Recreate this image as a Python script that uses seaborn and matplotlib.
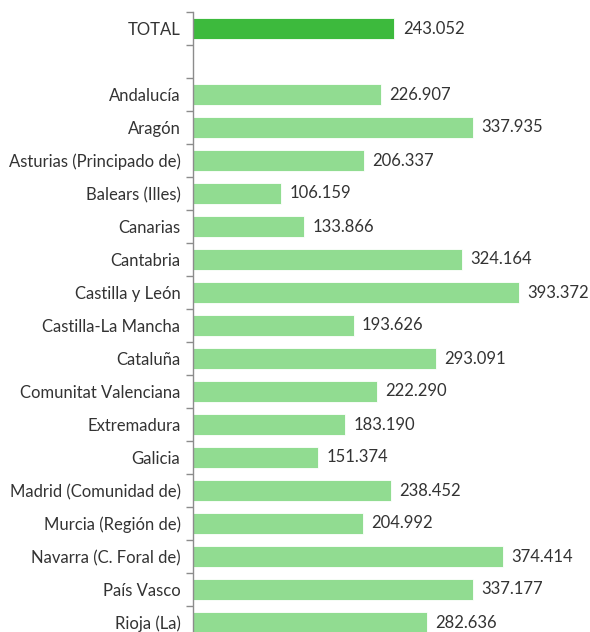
import matplotlib
matplotlib.use('Agg')
import pandas as pd
import seaborn as sns
import matplotlib.pyplot as plt
from matplotlib.ticker import FixedLocator

# data
regiones = ['Andalucía', 'Aragón', 'Asturias (Principado de)', 'Balears (Illes)',
            'Canarias', 'Cantabria', 'Castilla y León', 'Castilla-La Mancha',
            'Cataluña', 'Comunitat Valenciana', 'Extremadura', 'Galicia',
            'Madrid (Comunidad de)', 'Murcia (Región de)', 'Navarra (C. Foral de)',
            'País Vasco', 'Rioja (La)']
valores = [226907, 337935, 206337, 106159, 133866, 324164, 393372, 193626,
           293091, 222290, 183190, 151374, 238452, 204992, 374414, 337177, 282636]
total_label = 'TOTAL'
total_valor = 243052

color_total = '#3dba3d'
color_region = '#91dc91'
text_color = '#333333'

df = pd.DataFrame({
    'region': [total_label] + regiones,
    'valor': [total_valor] + valores,
    'grupo': ['total'] + ['region'] * len(regiones),
})
orden = [total_label, ' '] + regiones

sns.set_style('white')
plt.rcParams['font.family'] = ['Lato', 'DejaVu Sans']

fig = plt.figure(figsize=(5.9, 6.32), dpi=100)
ax = fig.add_axes([193 / 590, -7 / 632, 397 / 590, 627 / 632])

sns.barplot(data=df, y='region', x='valor', hue='grupo', order=orden,
            palette={'total': color_total, 'region': color_region},
            dodge=False, legend=False, width=0.62, saturation=1,
            edgecolor='white', linewidth=0.6, ax=ax)

for c in ax.containers:
    labs = ['{:,.0f}'.format(v).replace(',', '.') for v in c.datavalues]
    ax.bar_label(c, labels=labs, padding=6, fontsize=12, color=text_color)

ax.set_xlim(0, 478900)
ax.set_ylim(len(orden) - 0.5, -0.5)
ax.set_xlabel('')
ax.set_ylabel('')
ax.set_xticks([])

for s in ['top', 'right', 'bottom']:
    ax.spines[s].set_visible(False)
ax.spines['left'].set_color('#8c8c8c')
ax.spines['left'].set_linewidth(1)

ax.tick_params(axis='y', which='major', length=0, pad=9, labelsize=12, labelcolor=text_color)
ax.yaxis.set_minor_locator(FixedLocator([i - 0.5 for i in range(len(orden) + 1)]))
ax.tick_params(axis='y', which='minor', length=5, width=1, color='#8c8c8c', left=True)

fig.savefig('out.png', dpi=100)
